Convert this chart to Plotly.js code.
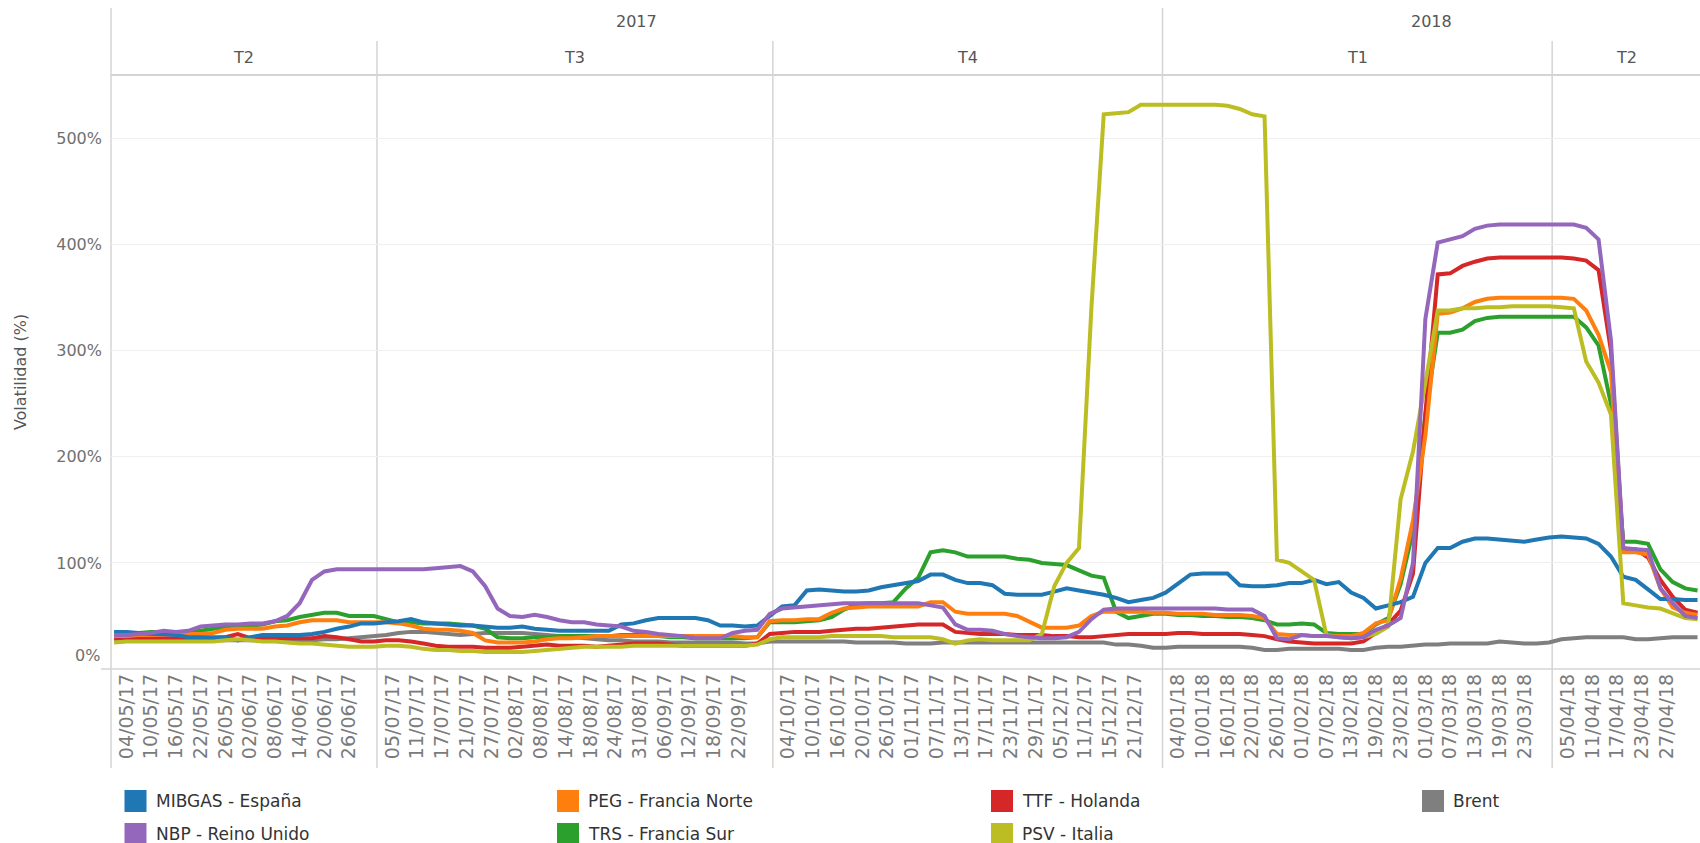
<!DOCTYPE html>
<html>
<head>
<meta charset="utf-8">
<script src="https://cdn.plot.ly/plotly-3.0.1.min.js"></script>
<style>
html,body{margin:0;padding:0;background:#fff;}
#chart{width:1700px;height:843px;}
</style>
</head>
<body>
<div id="chart"></div>
<script>
// ---------- calendar (UK trading days shown on the discrete date axis) ----------
const periodStart = '2017-05-02';
const periodEnd = '2018-05-04';
const holidays = ['2017-05-29','2017-08-28','2017-12-25','2017-12-26','2018-01-01','2018-03-30','2018-04-02'];

// ---------- tick labels shown on the axis ----------
const tickLabels = [
 '04/05/17','10/05/17','16/05/17','22/05/17','26/05/17','02/06/17','08/06/17','14/06/17','20/06/17','26/06/17',
 '05/07/17','11/07/17','17/07/17','21/07/17','27/07/17','02/08/17','08/08/17','14/08/17','18/08/17','24/08/17','31/08/17','06/09/17','12/09/17','18/09/17','22/09/17',
 '04/10/17','10/10/17','16/10/17','20/10/17','26/10/17','01/11/17','07/11/17','13/11/17','17/11/17','23/11/17','29/11/17','05/12/17','11/12/17','15/12/17','21/12/17',
 '04/01/18','10/01/18','16/01/18','22/01/18','26/01/18','01/02/18','07/02/18','13/02/18','19/02/18','23/02/18','01/03/18','07/03/18','13/03/18','19/03/18','23/03/18',
 '05/04/18','11/04/18','17/04/18','23/04/18','27/04/18'
];

// ---------- series (volatility %, one value every second trading day) ----------
const mibgas = [
 35,35,34,33,33,32,30,30,30,30, 27,30,32,32,32,32,33,35,38,40,
 43,43,44,45,47,44,43,42,41,41, 40,39,39,40,38,37,36,36,36,36,
 36,42,43,46,48,48,48,48,46,41, 41,40,41,50,59,60,74,75,74,73,
 73,74,77,79,81,83,89,89,84,81, 81,79,71,70,70,70,73,76,74,72,
 70,67,63,65,67,72,80,89,90,90, 90,79,78,78,79,81,81,84,80,82,
 72,67,57,60,63,68,100,114,114,120, 123,123,122,121,120,122,124,125,124,123,
 118,106,87,84,75,66,66,65,65
];
const peg = [
 31,31,32,32,33,33,33,33,34,37, 38,38,38,40,41,44,46,46,46,44,
 44,44,44,43,41,38,37,37,36,34, 27,25,25,25,26,28,29,29,30,31,
 31,31,31,31,31,31,31,31,31,31, 31,30,30,45,46,46,47,47,53,57,
 58,59,59,59,59,59,63,63,54,52, 52,52,52,50,44,39,39,39,41,50,
 54,54,54,54,53,53,52,52,52,51, 51,51,50,48,33,32,32,31,31,31,
 31,34,43,46,85,140,220,335,336,340, 346,349,350,350,350,350,350,350,349,338,
 315,280,110,110,108,76,58,53,51
];
const ttf = [
 29,29,29,29,29,29,29,29,29,30, 33,29,29,29,29,29,29,31,30,28,
 26,26,27,27,26,24,22,21,21,21, 20,20,20,21,22,23,22,22,22,21,
 22,23,24,24,24,23,22,22,22,22, 22,22,24,33,34,35,35,35,36,37,
 38,38,39,40,41,42,42,42,35,34, 33,33,33,32,32,32,31,31,30,30,
 31,32,33,33,33,33,34,34,33,33, 33,33,32,31,28,26,25,24,24,24,
 24,26,34,42,55,90,241,372,373,380, 384,387,388,388,388,388,388,388,387,385,
 376,300,113,113,105,84,68,56,53
];
const brent = [
 27,27,27,27,27,27,27,27,27,27, 27,27,27,27,27,27,27,28,28,29,
 30,31,32,34,35,35,34,33,32,33, 34,34,34,34,33,32,31,30,29,28,
 27,27,26,26,26,25,25,25,25,25, 25,24,24,26,26,26,26,26,26,26,
 25,25,25,25,24,24,24,25,25,25, 25,25,25,25,25,25,25,25,25,25,
 25,23,23,22,20,20,21,21,21,21, 21,21,20,18,18,19,19,19,19,19,
 18,18,20,21,21,22,23,23,24,24, 24,24,26,25,24,24,25,28,29,30,
 30,30,30,28,28,29,30,30,30
];
const nbp = [
 32,32,33,34,36,35,36,40,41,42, 42,43,43,45,50,62,84,92,94,94,
 94,94,94,94,94,94,95,96,97,92, 78,57,50,49,51,49,46,44,44,42,
 41,40,36,35,33,32,31,29,29,29, 34,36,37,52,57,58,59,60,61,62,
 62,62,62,62,62,62,60,58,42,37, 37,36,33,31,30,29,29,30,35,47,
 56,57,57,57,57,57,57,57,57,57, 56,56,56,50,29,28,32,31,31,30,
 29,30,37,41,48,100,330,402,405,408, 415,418,419,419,419,419,419,419,419,416,
 405,310,114,113,112,76,62,50,48
];
const trs = [
 34,34,34,35,35,34,34,36,38,39, 40,41,42,45,46,49,51,53,53,50,
 50,50,47,44,44,43,43,43,42,41, 38,30,29,29,30,30,31,31,31,31,
 31,32,32,32,31,30,30,29,29,29, 29,29,30,44,44,44,45,46,49,56,
 61,62,62,63,76,86,110,112,110,106, 106,106,106,104,103,100,99,98,93,88,
 86,54,48,50,52,52,51,51,50,50, 49,49,48,46,42,42,43,42,34,33,
 33,33,42,48,80,130,240,317,317,320, 328,331,332,332,332,332,332,332,332,322,
 305,250,120,120,118,94,82,76,74
];
const psv = [
 25,26,26,26,26,26,26,26,26,27, 28,27,26,26,25,24,24,23,22,21,
 21,21,22,22,21,19,18,18,17,17, 16,16,16,16,17,18,19,20,21,21,
 21,21,22,22,22,22,22,22,22,22, 22,22,23,28,30,30,30,30,31,31,
 31,31,31,30,30,30,30,28,24,27, 28,27,27,27,27,33,78,100,114,340,
 523,524,525,532,532,532,532,532,532,532, 531,528,523,521,103,100,92,84,32,30,
 29,30,33,40,160,205,270,338,338,340, 340,341,341,342,342,342,342,341,340,290,
 270,240,62,60,58,57,52,48,47
];

const seriesNames = ['MIBGAS - España','PEG - Francia Norte','TTF - Holanda','Brent','NBP - Reino Unido','TRS - Francia Sur','PSV - Italia'];
const seriesValues = [mibgas, peg, ttf, brent, nbp, trs, psv];
const seriesColors = ['#1f77b4','#ff7f0e','#d62728','#7f7f7f','#9467bd','#2ca02c','#bcbd22'];
const yTicks = [0,100,200,300,400,500];

// ---------- build calendar ----------
function buildTradingDays(start, end, hol) {
  const out = [];
  const d = new Date(start + 'T00:00:00Z');
  const e = new Date(end + 'T00:00:00Z');
  while (d <= e) {
    const wd = d.getUTCDay();
    const iso = d.toISOString().slice(0, 10);
    if (wd !== 0 && wd !== 6 && hol.indexOf(iso) < 0) {
      const mm = iso.slice(5, 7);
      out.push({
        label: iso.slice(8, 10) + '/' + mm + '/' + iso.slice(2, 4),
        year: iso.slice(0, 4),
        quarter: 'T' + (Math.floor((+mm - 1) / 3) + 1)
      });
    }
    d.setUTCDate(d.getUTCDate() + 1);
  }
  return out;
}
const days = buildTradingDays(periodStart, periodEnd, holidays);
const dayLabels = days.map(d => d.label);
const sampleDates = dayLabels.filter((_, i) => i % 2 === 0);

// ---------- geometry ----------
const W = 1700, H = 843;
const PL = 111, PT = 75, PB = 174;
const PW = W - PL, PH = H - PT - PB;
const py = px => (H - PB - px) / PH;          // pixel row -> paper y
const pxX = px => (px - PL) / PW;             // pixel col -> paper x
const X_MAX = days.length - 0.6;
const Y_MAX = 560;

// ---------- panes (quarters / years) ----------
const quarterSpans = [], yearSpans = [];
days.forEach((d, i) => {
  const qk = d.year + d.quarter;
  if (!quarterSpans.length || quarterSpans[quarterSpans.length - 1].key !== qk)
    quarterSpans.push({key: qk, label: d.quarter, start: i - 0.5, end: i + 0.5});
  else quarterSpans[quarterSpans.length - 1].end = i + 0.5;
  if (!yearSpans.length || yearSpans[yearSpans.length - 1].label !== d.year)
    yearSpans.push({label: d.year, start: i - 0.5, end: i + 0.5});
  else yearSpans[yearSpans.length - 1].end = i + 0.5;
});

const sepColor = '#d4d4d4';
const shapes = [];
shapes.push({type: 'line', xref: 'paper', yref: 'paper', x0: 0, x1: 1, y0: 1, y1: 1,
             line: {color: sepColor, width: 2}, layer: 'below'});
shapes.push({type: 'line', xref: 'paper', yref: 'paper', x0: pxX(101), x1: 1, y0: 0, y1: 0,
             line: {color: sepColor, width: 1.5}, layer: 'below'});
shapes.push({type: 'line', xref: 'paper', yref: 'paper', x0: 0, x1: 0, y0: py(768), y1: py(8),
             line: {color: sepColor, width: 1.5}, layer: 'below'});
const yearStarts = yearSpans.map(s => s.start);
quarterSpans.slice(1).forEach(q => {
  const isYear = yearStarts.indexOf(q.start) >= 0;
  shapes.push({type: 'line', xref: 'x', yref: 'paper', x0: q.start, x1: q.start,
               y0: py(768), y1: py(isYear ? 8 : 41),
               line: {color: sepColor, width: 1.5}, layer: 'below'});
});

const headerFont = {family: 'DejaVu Sans, sans-serif', size: 16, color: '#555'};
const tickFontY = {family: 'DejaVu Sans, sans-serif', size: 16, color: '#707070'};
const annotations = [];
quarterSpans.forEach(q => {
  const c = (q.start + Math.min(q.end, X_MAX)) / 2;
  annotations.push({xref: 'x', yref: 'paper', x: c, y: py(57.5), text: q.label, showarrow: false,
                    xanchor: 'center', yanchor: 'middle', font: headerFont});
});
yearSpans.forEach(s => {
  const c = (s.start + Math.min(s.end, X_MAX)) / 2;
  annotations.push({xref: 'x', yref: 'paper', x: c, y: py(22), text: s.label, showarrow: false,
                    xanchor: 'center', yanchor: 'middle', font: headerFont});
});
// the lowest axis label sits just above the axis line (kept inside the pane)
annotations.push({xref: 'paper', yref: 'y', x: pxX(102), y: yTicks[0], text: yTicks[0] + '%', showarrow: false,
                  xanchor: 'right', yanchor: 'bottom', yshift: 2, font: tickFontY});

// ---------- legend (colour swatches + names, 4 columns x 2 rows) ----------
const legendCols = [[0, 4], [1, 5], [2, 6], [3]];
const legendColX = [135.5, 568, 1002, 1433];   // swatch centres (px)
const legendRowY = [801, 834];                 // row centres (px)
const SW = 11;
legendCols.forEach((col, ci) => {
  col.forEach((k, ri) => {
    const cx = legendColX[ci], cy = legendRowY[ri];
    shapes.push({type: 'rect', xref: 'paper', yref: 'paper',
                 x0: pxX(cx - SW), x1: pxX(cx + SW), y0: py(cy + SW), y1: py(cy - SW),
                 fillcolor: seriesColors[k], line: {width: 0}});
    annotations.push({xref: 'paper', yref: 'paper', x: pxX(cx + 18), y: py(cy), text: seriesNames[k],
                      showarrow: false, xanchor: 'left', yanchor: 'middle',
                      font: {family: 'DejaVu Sans, sans-serif', size: 17, color: '#333'}});
  });
});

// ---------- traces ----------
const traces = [];
traces.push({x: dayLabels, y: dayLabels.map(() => null), mode: 'lines', showlegend: false,
             hoverinfo: 'skip', line: {width: 0}});
const drawOrder = [3, 5, 2, 1, 0, 6, 4]; // Brent, TRS, TTF, PEG, MIBGAS, PSV, NBP
drawOrder.forEach(k => {
  traces.push({
    x: sampleDates, y: seriesValues[k], name: seriesNames[k], mode: 'lines',
    line: {color: seriesColors[k], width: 4}, showlegend: false,
    hovertemplate: '%{x}<br>%{y}%<extra>' + seriesNames[k] + '</extra>'
  });
});

const layout = {
  width: W, height: H,
  margin: {l: PL, r: 0, t: PT, b: PB, pad: 0},
  paper_bgcolor: '#ffffff', plot_bgcolor: 'rgba(0,0,0,0)',
  font: {family: 'DejaVu Sans, sans-serif', color: '#666'},
  showlegend: false,
  xaxis: {
    type: 'category', categoryorder: 'array', categoryarray: dayLabels,
    range: [-0.5, X_MAX], tickmode: 'array', tickvals: tickLabels, ticktext: tickLabels,
    tickangle: -90, tickfont: {family: 'DejaVu Sans, sans-serif', size: 19, color: '#7a7a7a'},
    showgrid: false, zeroline: false, showline: false, ticks: '', automargin: false, fixedrange: true
  },
  yaxis: {
    range: [0, Y_MAX], tickmode: 'array', tickvals: yTicks,
    ticktext: yTicks.map((v, i) => i === 0 ? '' : v + '%'),
    tickfont: tickFontY,
    gridcolor: '#efefef', gridwidth: 1, zeroline: false, showline: false, ticks: '',
    ticklabelstandoff: 8, automargin: false, fixedrange: true,
    title: {text: 'Volatilidad (%)', standoff: 25, font: {family: 'DejaVu Sans, sans-serif', size: 16, color: '#555'}}
  },
  shapes: shapes,
  annotations: annotations
};

Plotly.newPlot('chart', traces, layout, {displayModeBar: false, responsive: false});
</script>
</body>
</html>
